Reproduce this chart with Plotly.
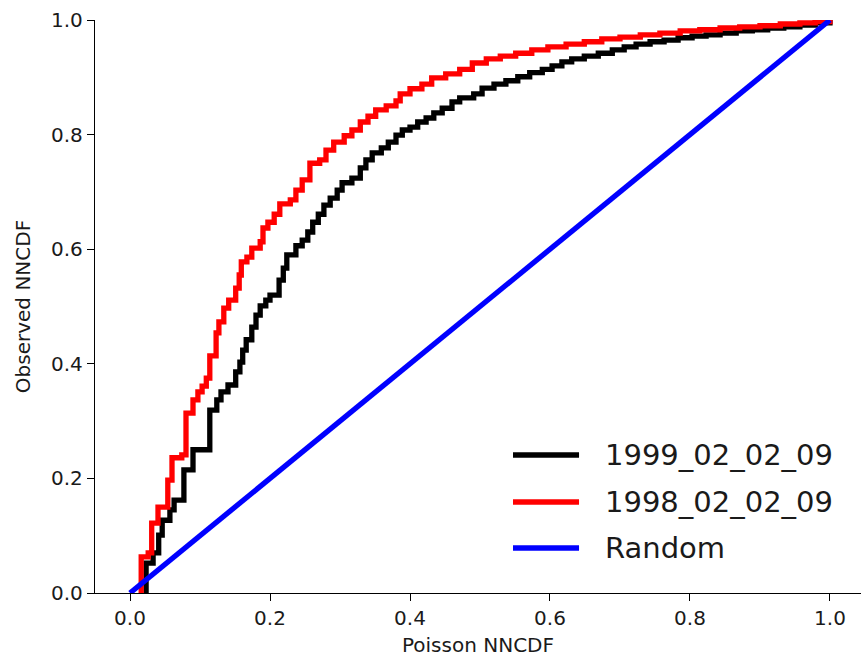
import plotly.graph_objects as go

# Step breakpoints of the nearest-neighbour CDF comparison (Poisson vs observed)
poisson_1999 = [0.020, 0.023, 0.033, 0.041, 0.046, 0.057, 0.063, 0.077, 0.090, 0.114,
                0.124, 0.130, 0.140, 0.151, 0.157, 0.161, 0.166, 0.174, 0.180, 0.186,
                0.194, 0.200, 0.213, 0.219, 0.224, 0.237, 0.246, 0.254, 0.261, 0.269,
                0.277, 0.286, 0.296, 0.303, 0.317, 0.329, 0.337, 0.346, 0.359, 0.369,
                0.380, 0.389, 0.400, 0.411, 0.423, 0.434, 0.446, 0.460, 0.471, 0.491,
                0.503, 0.520, 0.537, 0.554, 0.571, 0.589, 0.603, 0.617, 0.631, 0.649,
                0.669, 0.689, 0.706, 0.723, 0.743, 0.763, 0.783, 0.803, 0.823, 0.843,
                0.866, 0.889, 0.911, 0.934, 0.957, 0.979, 1.000]
observed_1999 = [0.000, 0.052, 0.070, 0.101, 0.127, 0.145, 0.162, 0.215, 0.250, 0.319,
                 0.337, 0.351, 0.363, 0.386, 0.403, 0.424, 0.442, 0.464, 0.485, 0.501,
                 0.511, 0.520, 0.546, 0.567, 0.590, 0.606, 0.616, 0.630, 0.647, 0.661,
                 0.677, 0.689, 0.703, 0.716, 0.724, 0.742, 0.756, 0.768, 0.777, 0.787,
                 0.799, 0.808, 0.813, 0.822, 0.829, 0.838, 0.846, 0.857, 0.864, 0.871,
                 0.881, 0.888, 0.894, 0.901, 0.908, 0.914, 0.920, 0.927, 0.932, 0.937,
                 0.942, 0.948, 0.953, 0.958, 0.962, 0.965, 0.969, 0.972, 0.974, 0.977,
                 0.981, 0.983, 0.986, 0.988, 0.991, 0.995, 1.000]

poisson_1998 = [0.014, 0.016, 0.026, 0.031, 0.040, 0.054, 0.060, 0.074, 0.080, 0.090,
                0.097, 0.103, 0.109, 0.114, 0.123, 0.127, 0.134, 0.141, 0.151, 0.156,
                0.159, 0.167, 0.174, 0.186, 0.190, 0.197, 0.206, 0.214, 0.229, 0.237,
                0.246, 0.257, 0.271, 0.280, 0.291, 0.306, 0.317, 0.329, 0.340, 0.351,
                0.366, 0.380, 0.386, 0.400, 0.417, 0.431, 0.451, 0.471, 0.489, 0.509,
                0.529, 0.551, 0.574, 0.597, 0.623, 0.649, 0.674, 0.700, 0.729, 0.757,
                0.786, 0.814, 0.843, 0.871, 0.900, 0.929, 0.957, 0.979, 1.000]
observed_1998 = [0.000, 0.063, 0.070, 0.122, 0.150, 0.197, 0.236, 0.241, 0.314, 0.337,
                 0.351, 0.361, 0.375, 0.414, 0.454, 0.473, 0.497, 0.511, 0.532, 0.555,
                 0.578, 0.586, 0.602, 0.613, 0.637, 0.647, 0.661, 0.679, 0.686, 0.703,
                 0.721, 0.750, 0.756, 0.773, 0.787, 0.798, 0.808, 0.822, 0.832, 0.843,
                 0.850, 0.859, 0.871, 0.880, 0.888, 0.899, 0.906, 0.914, 0.925, 0.932,
                 0.937, 0.942, 0.948, 0.953, 0.958, 0.962, 0.967, 0.970, 0.974, 0.977,
                 0.981, 0.983, 0.986, 0.988, 0.990, 0.993, 0.995, 0.997, 1.000]

random_x = [0.0, 1.0]
random_y = [0.0, 1.0]

series_names = ["1999_02_02_09", "1998_02_02_09", "Random"]
series_colors = ["#000000", "#ff0000", "#0000ff"]
tick_vals = [0.0, 0.2, 0.4, 0.6, 0.8, 1.0]
tick_text = ["0.0", "0.2", "0.4", "0.6", "0.8", "1.0"]

FONT = "DejaVu Sans"
LW = 5.3

fig = go.Figure()
fig.add_trace(go.Scatter(x=poisson_1999, y=observed_1999, mode="lines",
                         line=dict(color=series_colors[0], width=LW, shape="hv"),
                         name=series_names[0]))
fig.add_trace(go.Scatter(x=poisson_1998, y=observed_1998, mode="lines",
                         line=dict(color=series_colors[1], width=LW, shape="hv"),
                         name=series_names[1]))
fig.add_trace(go.Scatter(x=random_x, y=random_y, mode="lines",
                         line=dict(color=series_colors[2], width=LW),
                         name=series_names[2]))

axis_common = dict(
    showgrid=False, zeroline=False, showline=True, linecolor="black", linewidth=1.3,
    ticks="outside", ticklen=7, tickwidth=1.3, tickcolor="black",
    tickfont=dict(family=FONT, size=20, color="#1a1a1a"),
    tickvals=tick_vals, ticktext=tick_text,
)

fig.update_xaxes(range=[-0.05, 1.0443], title=dict(text="Poisson NNCDF",
                 font=dict(family=FONT, size=20, color="#1a1a1a"), standoff=10),
                 **axis_common)
fig.update_yaxes(range=[0, 1.0], title=dict(text="Observed NNCDF",
                 font=dict(family=FONT, size=20, color="#1a1a1a"), standoff=15),
                 **axis_common)

# Legend drawn as line samples with labels, lower right of the axes
legend_rows = [0.2408, 0.1588, 0.0785]
for name, color, yy in zip(series_names, series_colors, legend_rows):
    fig.add_shape(type="line", xref="paper", yref="paper",
                  x0=0.5457, x1=0.6319, y0=yy, y1=yy,
                  line=dict(color=color, width=LW))
    fig.add_annotation(xref="paper", yref="paper", x=0.6632, y=yy, text=name,
                       showarrow=False, xanchor="left", yanchor="middle",
                       font=dict(family=FONT, size=29, color="#1a1a1a"))

fig.update_layout(
    width=861, height=657,
    margin=dict(l=95, r=0, t=20, b=64, autoexpand=False),
    plot_bgcolor="white", paper_bgcolor="white",
    showlegend=False,
)

fig.write_html("out.html")
